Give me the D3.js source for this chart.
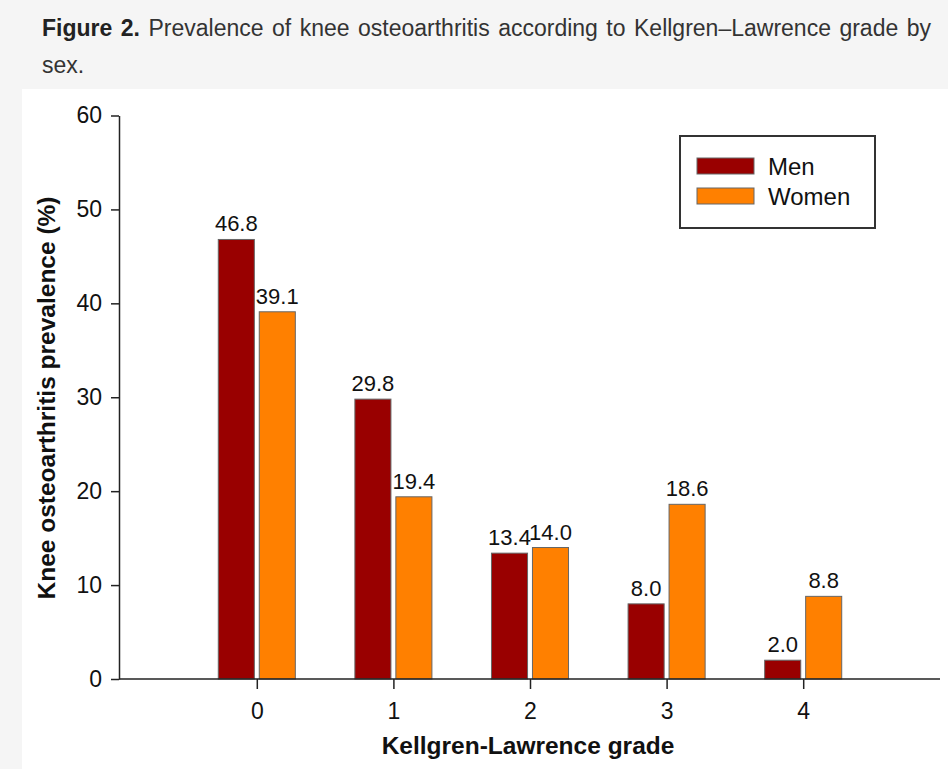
<!DOCTYPE html>
<html>
<head>
<meta charset="utf-8">
<script src="https://cdn.jsdelivr.net/npm/d3@7"></script>
<style>
  body { margin: 0; background: #f5f5f5; font-family: "Liberation Sans", Arial, sans-serif; }
  #wrap { position: relative; width: 948px; height: 769px; overflow: hidden; }
  #caption { position: absolute; left: 42px; top: 10px; width: 889px; font-size: 23px;
             line-height: 37px; color: #333; text-align: justify; }
  #caption b { color: #222; }
  svg { position: absolute; left: 0; top: 0; }
</style>
</head>
<body>
<div id="wrap">
  <svg id="chart" width="948" height="769"></svg>
  <div id="caption"><b>Figure 2.</b> Prevalence of knee osteoarthritis according to Kellgren–Lawrence grade by sex.</div>
</div>
<script>
// data
const grades = ["0", "1", "2", "3", "4"];
const series = ["Men", "Women"];
const men = [46.8, 29.8, 13.4, 8.0, 2.0];
const women = [39.1, 19.4, 14.0, 18.6, 8.8];
const yTicks = [0, 10, 20, 30, 40, 50, 60];
const colors = ["#990000", "#ff8000"];

const font = "Liberation Sans, Arial, sans-serif";
const svg = d3.select("#chart");

// white panel behind the plot
svg.append("rect")
  .attr("x", 22).attr("y", 89).attr("width", 926).attr("height", 680)
  .attr("fill", "#fff");

const y = d3.scaleLinear().domain([0, 60]).range([679, 115.5]);
const x0 = d3.scaleBand().domain(grades)
  .range([188.5, 871.5]).paddingInner(0.436).paddingOuter(0.218);
const x1 = d3.scaleBand().domain(series)
  .range([0, x0.bandwidth()]).paddingInner(0.12);

const rows = grades.map((g, i) => ({ grade: g, values: [men[i], women[i]] }));

// bars
const groups = svg.append("g").selectAll("g")
  .data(rows)
  .join("g")
  .attr("transform", d => `translate(${x0(d.grade)},0)`);

groups.selectAll("rect")
  .data(d => d.values.map((v, j) => ({ key: series[j], v: v, j: j })))
  .join("rect")
  .attr("x", d => x1(d.key))
  .attr("y", d => y(d.v))
  .attr("width", x1.bandwidth())
  .attr("height", d => y(0) - y(d.v))
  .attr("fill", d => colors[d.j])
  .attr("stroke", "#666")
  .attr("stroke-width", 1);

groups.selectAll("text")
  .data(d => d.values.map((v, j) => ({ key: series[j], v: v })))
  .join("text")
  .attr("x", d => x1(d.key) + x1.bandwidth() / 2)
  .attr("y", d => y(d.v) - 8)
  .attr("text-anchor", "middle")
  .attr("font-family", font)
  .attr("font-size", 22)
  .attr("fill", "#111")
  .text(d => d.v.toFixed(1));

// y axis
const yAxis = svg.append("g")
  .attr("transform", "translate(119,0)")
  .call(d3.axisLeft(y).tickValues(yTicks).tickSize(8).tickPadding(9).tickSizeOuter(0));
yAxis.selectAll("text").attr("font-size", 23).attr("fill", "#111")
  .attr("font-family", font);
yAxis.selectAll("line, path").attr("stroke", "#222").attr("stroke-width", 1.5);

// x axis: ticks at group centres, line spanning the whole plot
const xAxis = svg.append("g")
  .attr("transform", `translate(0,${y(0)})`)
  .call(d3.axisBottom(d3.scalePoint().domain(grades)
      .range([x0(grades[0]) + x0.bandwidth() / 2, x0(grades[4]) + x0.bandwidth() / 2]))
    .tickSize(10).tickPadding(14).tickSizeOuter(0));
xAxis.select("path").remove();
xAxis.append("line").attr("x1", 119).attr("x2", 940)
  .attr("stroke", "#222").attr("stroke-width", 1.5);
xAxis.selectAll(".tick line").attr("stroke", "#222").attr("stroke-width", 1.5);
xAxis.selectAll("text").attr("font-size", 23).attr("fill", "#111")
  .attr("font-family", font);

// axis titles
svg.append("text")
  .attr("x", 528).attr("y", 754)
  .attr("text-anchor", "middle")
  .attr("font-family", font)
  .attr("font-size", 24.5).attr("font-weight", "bold").attr("fill", "#111")
  .text("Kellgren-Lawrence grade");

svg.append("text")
  .attr("transform", "translate(55,398) rotate(-90)")
  .attr("text-anchor", "middle")
  .attr("font-family", font)
  .attr("font-size", 24.5).attr("font-weight", "bold").attr("fill", "#111")
  .text("Knee osteoarthritis prevalence (%)");

// legend
const legend = svg.append("g");
legend.append("rect")
  .attr("x", 680).attr("y", 136).attr("width", 195).attr("height", 92)
  .attr("fill", "#fff").attr("stroke", "#333").attr("stroke-width", 2);
const items = legend.selectAll("g.item")
  .data(series)
  .join("g")
  .attr("class", "item")
  .attr("transform", (d, i) => `translate(697,${158 + i * 30})`);
items.append("rect")
  .attr("width", 57).attr("height", 16)
  .attr("fill", (d, i) => colors[i])
  .attr("stroke", "#666");
items.append("text")
  .attr("x", 71).attr("y", 17)
  .attr("font-family", font)
  .attr("font-size", 24).attr("fill", "#111")
  .text(d => d);
</script>
</body>
</html>
